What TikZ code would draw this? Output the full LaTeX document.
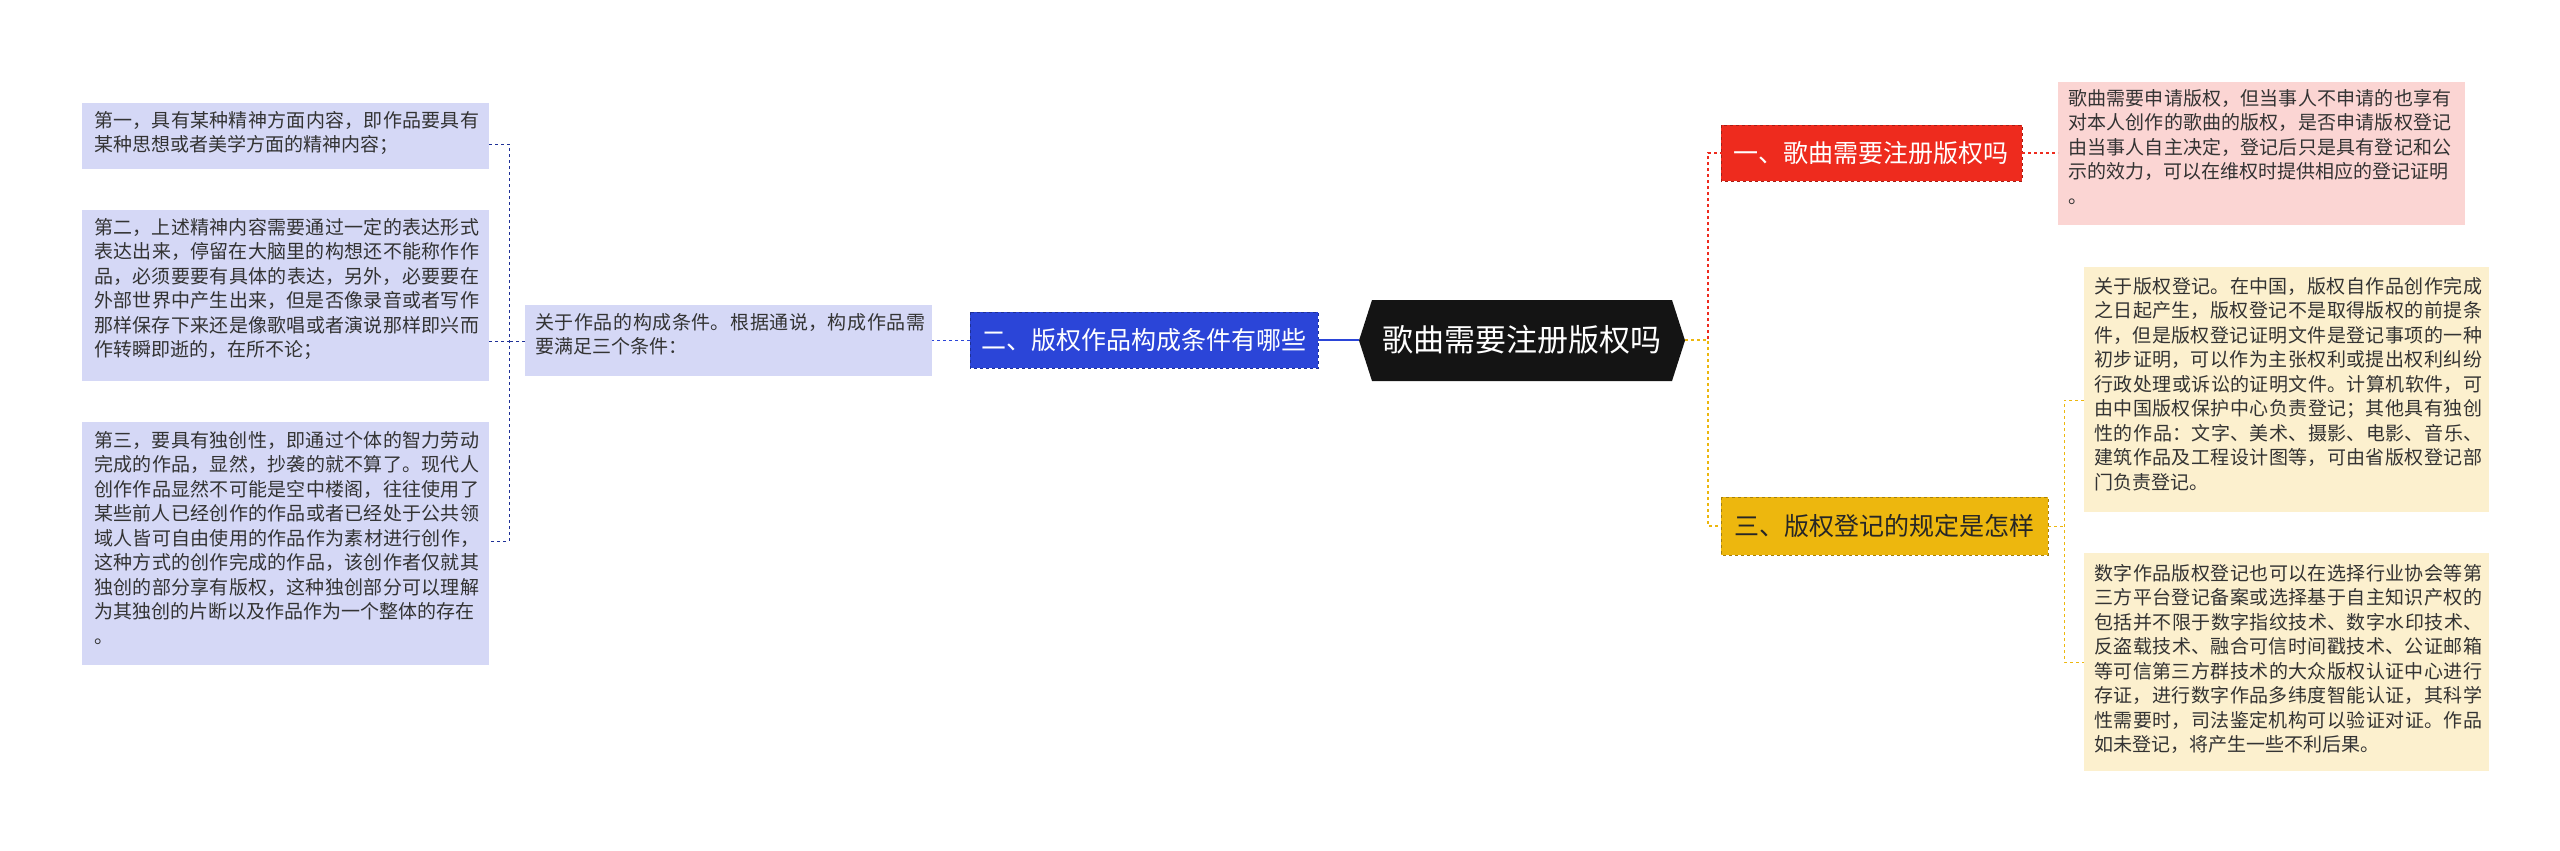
\documentclass[tikz,border=0pt]{standalone}
\usepackage{fontspec}
\setmainfont{Noto Sans CJK SC}
\XeTeXlinebreaklocale "zh"
\XeTeXlinebreakskip=0pt plus 1pt
\usetikzlibrary{shapes.geometric}
\definecolor{lbl}{HTML}{D5D8F6}
\definecolor{bluen}{HTML}{2B45D8}
\definecolor{redn}{HTML}{EE2B1E}
\definecolor{redl}{HTML}{FBD5D3}
\definecolor{yeln}{HTML}{EDB70E}
\definecolor{yell}{HTML}{FCF0CE}
\begin{document}
\begin{tikzpicture}[x=1pt,y=-1pt,
  txt/.style={anchor=north west,inner sep=0pt,text width=#1,align=justify,font=\fontsize{19}{24.5}\selectfont,text=black!80},
  branch/.style={anchor=center,font=\fontsize{25}{30}\selectfont,text=white},
  bx/.style={draw=#1!70!black,dashed,line width=0.8pt}]
\useasboundingbox (0,0) rectangle (2560,851);
% left boxes
\fill[lbl] (82,103) rectangle (489,169);
\fill[lbl] (82,210) rectangle (489,381);
\fill[lbl] (82,422) rectangle (489,665);
\fill[lbl] (525,305) rectangle (932,376);
\node[txt=385pt] (l1) at (94,111) {第一，具有某种精神方面内容，即作品要具有某种思想或者美学方面的精神内容；};
\node[txt=385pt] (l2) at (94,218) {第二，上述精神内容需要通过一定的表达形式表达出来，停留在大脑里的构想还不能称作作品，必须要要有具体的表达，另外，必要要在外部世界中产生出来，但是否像录音或者写作那样保存下来还是像歌唱或者演说那样即兴而作转瞬即逝的，在所不论；};
\node[txt=385pt] (l3) at (94,431) {第三，要具有独创性，即通过个体的智力劳动完成的作品，显然，抄袭的就不算了。现代人创作作品显然不可能是空中楼阁，往往使用了某些前人已经创作的作品或者已经处于公共领域人皆可自由使用的作品作为素材进行创作，这种方式的创作完成的作品，该创作者仅就其独创的部分享有版权，这种独创部分可以理解为其独创的片断以及作品作为一个整体的存在\\。};
\node[txt=390pt] (mid) at (535,313) {关于作品的构成条件。根据通说，构成作品需要满足三个条件：};
% blue branch
\fill[bluen] (970,312) rectangle (1318,368);
\draw[bx=bluen] (970,312) rectangle (1318,368);
\node[branch] (b) at (1144,340) {二、版权作品构成条件有哪些};
% center
\fill[black!92] (1372,300) -- (1672,300) -- (1685,340.5) -- (1672,381) -- (1372,381) -- (1359,340.5) -- cycle;
\node[font=\fontsize{31}{36}\selectfont,text=white] (c) at (1522,340) {歌曲需要注册版权吗};
% red branch
\fill[redn] (1721,125) rectangle (2022,181);
\draw[bx=redn] (1721,125) rectangle (2022,181);
\node[branch] (r) at (1871,153) {一、歌曲需要注册版权吗};
\fill[redl] (2058,82) rectangle (2465,225);
\node[txt=390pt,align=left] (rt) at (2068,89) {歌曲需要申请版权，但当事人不申请的也享有对本人创作的歌曲的版权，是否申请版权登记由当事人自主决定，登记后只是具有登记和公示的效力，可以在维权时提供相应的登记证明\\。};
% yellow branch
\fill[yeln] (1721,497) rectangle (2048,555);
\draw[bx=yeln] (1721,497) rectangle (2048,555);
\node[branch,text=black!85] (y) at (1884,526) {三、版权登记的规定是怎样};
\fill[yell] (2084,267) rectangle (2489,512);
\fill[yell] (2084,553) rectangle (2489,771);
\node[txt=388pt] (y1) at (2094,277) {关于版权登记。在中国，版权自作品创作完成之日起产生，版权登记不是取得版权的前提条件，但是版权登记证明文件是登记事项的一种初步证明，可以作为主张权利或提出权利纠纷行政处理或诉讼的证明文件。计算机软件，可由中国版权保护中心负责登记；其他具有独创性的作品：文字、美术、摄影、电影、音乐、建筑作品及工程设计图等，可由省版权登记部门负责登记。};
\node[txt=388pt] (y2) at (2094,564) {数字作品版权登记也可以在选择行业协会等第三方平台登记备案或选择基于自主知识产权的包括并不限于数字指纹技术、数字水印技术、反盗载技术、融合可信时间戳技术、公证邮箱等可信第三方群技术的大众版权认证中心进行存证，进行数字作品多纬度智能认证，其科学性需要时，司法鉴定机构可以验证对证。作品如未登记，将产生一些不利后果。};
% connectors
\draw[bluen,line width=1.5pt] (1359,340) -- (1318,340);
\draw[bluen,dashed,line width=1pt] (970,340) -- (932,340);
\draw[bluen!70!black,dashed,line width=1pt] (525,341) -- (509,341)
  (489,144) -- (509,144) -- (509,541) -- (489,541)
  (489,341) -- (509,341);
\draw[redn,dashed,line width=1.2pt] (1685,340) -- (1708,340) -- (1708,153) -- (1721,153);
\draw[redn,dashed,line width=1.2pt] (2022,153) -- (2058,153);
\draw[yeln,dashed,line width=1.2pt] (1685,340) -- (1708,340) -- (1708,526) -- (1721,526);
\draw[yeln,dashed,line width=1pt] (2048,526) -- (2064,526)
  (2084,400) -- (2064,400) -- (2064,662) -- (2084,662);
\end{tikzpicture}
\end{document}
